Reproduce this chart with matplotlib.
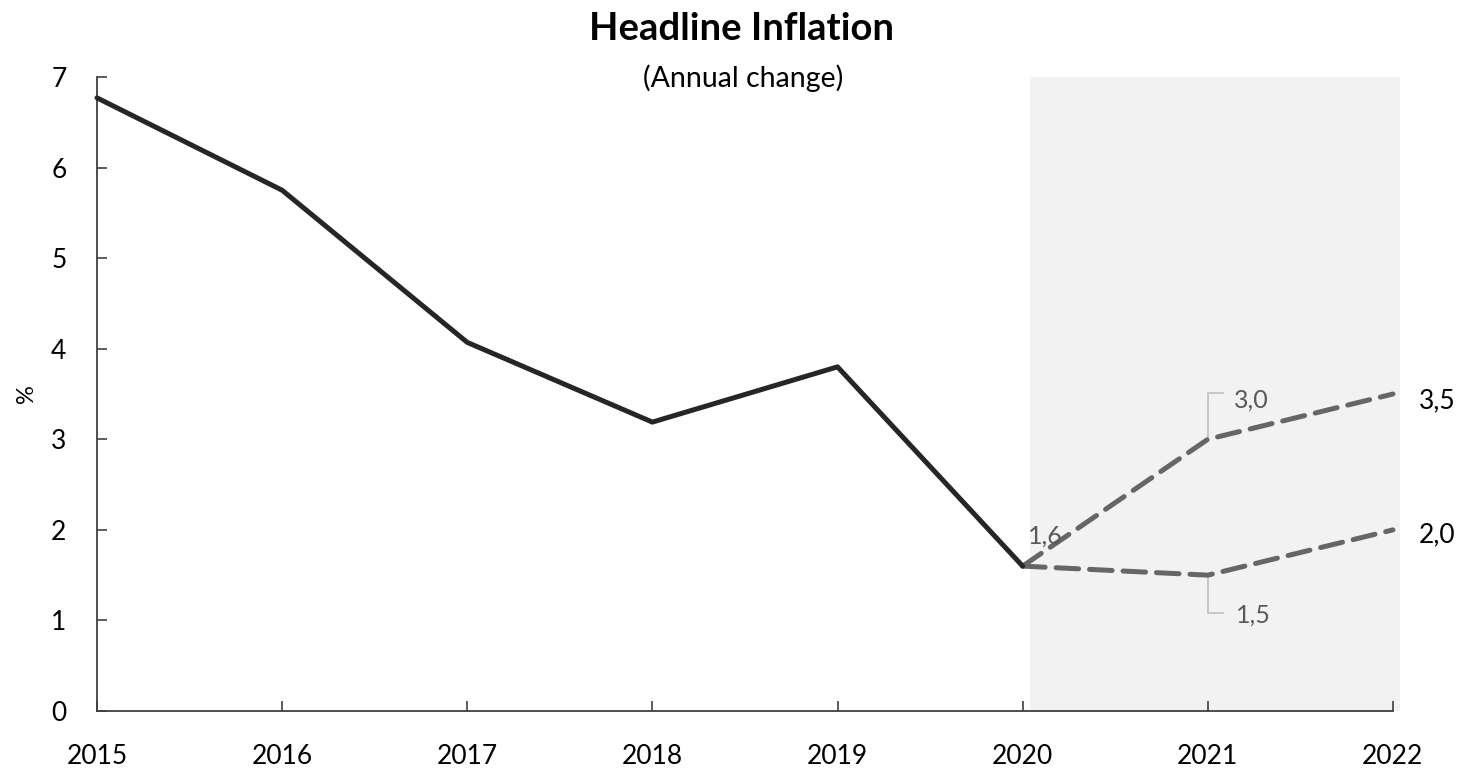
import matplotlib
matplotlib.use("Agg")
import matplotlib.pyplot as plt

plt.rcParams['font.family'] = ['Lato', 'DejaVu Sans']

years_hist = [2015, 2016, 2017, 2018, 2019, 2020]
infl_hist = [6.77, 5.75, 4.07, 3.19, 3.80, 1.60]
years_fc = [2020, 2021, 2022]
fc_high = [1.6, 3.0, 3.5]
fc_low = [1.6, 1.5, 2.0]
year_ticks = [2015, 2016, 2017, 2018, 2019, 2020, 2021, 2022]
y_ticks = [0, 1, 2, 3, 4, 5, 6, 7]

fig = plt.figure(figsize=(14.63, 7.71), dpi=100)
ax = fig.add_axes([0.0663, 0.0778, 0.8858, 0.8223])

ax.set_xlim(2015, 2022)
ax.set_ylim(0, 7)

# forecast shading
ax.axvspan(2020.04, 2022.04, ymin=0, ymax=1, color='#f2f2f2', zorder=0, clip_on=False, lw=0)

fc_color = '#666666'
for s in (fc_low, fc_high):
    ax.plot(years_fc, s, color=fc_color, lw=3.6, dashes=(4.5, 2.2), zorder=2,
            dash_capstyle='round', clip_on=False)
ax.plot(years_hist, infl_hist, color='#262626', lw=3.6, solid_capstyle='round',
        solid_joinstyle='round', zorder=3, clip_on=False)

# spines / ticks
for sp in ('top', 'right'):
    ax.spines[sp].set_visible(False)
for sp in ('left', 'bottom'):
    ax.spines[sp].set_color('#404040')
    ax.spines[sp].set_linewidth(1.3)
ax.set_xticks(year_ticks)
ax.set_xticklabels([str(y) for y in year_ticks])
ax.set_yticks(y_ticks)
ax.set_yticklabels([str(v) for v in y_ticks])
ax.tick_params(axis='x', direction='in', length=7, width=1.2, color='#404040',
               pad=24, labelsize=19)
ax.tick_params(axis='y', direction='in', length=7, width=1.2, color='#404040',
               pad=22, labelsize=19)
ax.set_ylabel('%', fontsize=17, labelpad=10)

# labels
gray = '#595959'
lead = '#bfbfbf'
fs = 18
ax.text(2020.03, 1.93, '1,6', color=gray, fontsize=fs, ha='left', va='center')
# 3,0 leader
ax.plot([2021.0, 2021.0, 2021.08], [fc_high[1] + 0.02, 3.51, 3.51], color=lead, lw=1.2, zorder=1)
ax.text(2021.14, 3.43, '3,0', color=gray, fontsize=fs, ha='left', va='center')
# 1,5 leader
ax.plot([2021.0, 2021.0, 2021.08], [fc_low[1] - 0.02, 1.08, 1.08], color=lead, lw=1.2, zorder=1)
ax.text(2021.15, 1.06, '1,5', color=gray, fontsize=fs, ha='left', va='center')
# end labels
ax.text(2022.14, 3.42, '3,5', color='black', fontsize=19, ha='left', va='center')
ax.text(2022.14, 1.94, '2,0', color='black', fontsize=19, ha='left', va='center')

fig.text(0.507, 0.962, 'Headline Inflation', fontsize=27.5, fontweight='bold', ha='center', va='center')
fig.text(0.508, 0.898, '(Annual change)', fontsize=20.5, ha='center', va='center')

fig.savefig('out.png', dpi=100)
